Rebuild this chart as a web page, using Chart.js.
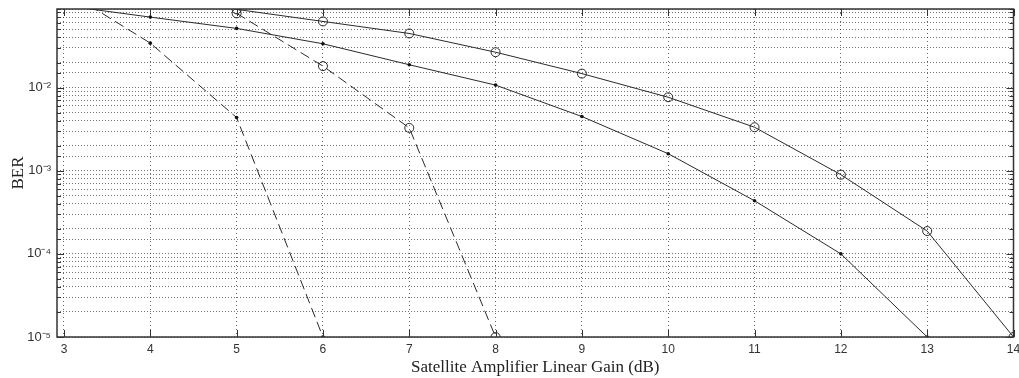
<!DOCTYPE html>
<html lang="en">
<head>
    <meta charset="UTF-8">
    <title>BER vs gain</title>
    <script src="https://cdn.jsdelivr.net/npm/chart.js"></script>
    <style>
      body { margin: 0; background: #fff; }
    </style>
</head>
<body>
    <canvas id="grafico1" width="1019" height="378"></canvas>

    <script>
      // x values (dB)
      const gain = [3, 4, 5, 6, 7, 8, 9, 10, 11, 12, 13, 14]
      // BER curves (null = not plotted)
      const solidCircle = [null, null, 0.0871, 0.0624, 0.0447, 0.0266, 0.0147, 0.00764, 0.00333, 0.000895, 0.000188, 0.00001]
      const solidDot = [0.097, 0.0703, 0.0514, 0.0336, 0.0188, 0.0107, 0.00448, 0.0016, 0.000435, 0.0001, 0.00001, null]
      const dashedDot = [0.15, 0.0342, 0.00435, 0.00001, null, null, null, null, null, null, null, null]
      const dashedCircle = [null, null, 0.078, 0.0181, 0.00327, 0.00001, null, null, null, null, null, null]
      const yTicks = [1e-5, 1e-4, 1e-3, 1e-2]
      const yTickText = ['10⁻⁵', '10⁻⁴', '10⁻³', '10⁻²']

      const pontos = (vals) => gain.map((g, i) => ({x: g, y: vals[i]})).filter(p => p.y !== null)

      const cor = '#2a2a2a'

      // box around the plot + inward tick marks, MATLAB style
      const moldura = {
        id: 'moldura',
        afterDatasetsDraw(chart) {
          const c = chart.ctx
          const a = chart.chartArea
          const sx = chart.scales.x
          const sy = chart.scales.y
          c.save()
          c.strokeStyle = '#333'
          c.lineWidth = 1
          c.setLineDash([])
          c.beginPath()
          gain.forEach(g => {
            const px = Math.round(sx.getPixelForValue(g)) + 0.5
            c.moveTo(px, a.bottom); c.lineTo(px, a.bottom - 7)
            c.moveTo(px, a.top); c.lineTo(px, a.top + 7)
          })
          sy.ticks.forEach(t => {
            const py = Math.round(sy.getPixelForValue(t.value)) + 0.5
            const len = yTicks.includes(t.value) ? 7 : 4
            c.moveTo(a.left, py); c.lineTo(a.left + len, py)
            c.moveTo(a.right, py); c.lineTo(a.right - len, py)
          })
          c.stroke()
          c.lineWidth = 1.5
          c.strokeRect(a.left, a.top, a.right - a.left, a.bottom - a.top)
          c.restore()
        }
      }

      const ctx = document.getElementById('grafico1')

      let grafico1 = new Chart(ctx, {
        type: 'line',
        data: {
          datasets: [
            {
              label: 'solid o',
              data: pontos(solidCircle),
              borderColor: cor, borderWidth: 1,
              pointStyle: 'circle', pointRadius: 4.5, pointBorderWidth: 1,
              pointBorderColor: cor, pointBackgroundColor: 'rgba(0,0,0,0)'
            },
            {
              label: 'solid .',
              data: pontos(solidDot),
              borderColor: cor, borderWidth: 1,
              pointRadius: 1.8, pointBorderWidth: 0,
              pointBackgroundColor: '#111'
            },
            {
              label: 'dashed .',
              data: pontos(dashedDot),
              borderColor: cor, borderWidth: 1, borderDash: [10, 5],
              pointRadius: 1.8, pointBorderWidth: 0,
              pointBackgroundColor: '#111'
            },
            {
              label: 'dashed o',
              data: pontos(dashedCircle),
              borderColor: cor, borderWidth: 1, borderDash: [10, 5],
              pointStyle: 'circle', pointRadius: 4.5, pointBorderWidth: 1,
              pointBorderColor: cor, pointBackgroundColor: 'rgba(0,0,0,0)'
            }
          ]
        },
        options: {
          responsive: false,
          animation: false,
          layout: { padding: { top: 9, right: 3, left: 0, bottom: 0 } },
          plugins: { legend: { display: false }, tooltip: { enabled: false } },
          elements: { line: { tension: 0 } },
          scales: {
            x: {
              type: 'linear',
              min: 2.919, max: 14,
              border: { display: false, dash: [1, 3] },
              grid: { color: 'rgba(0,0,0,0.6)', drawTicks: false },
              ticks: {
                stepSize: 1, padding: 5, color: '#333', includeBounds: false,
                font: { family: 'Liberation Sans', size: 12 }
              },
              title: {
                display: true, text: 'Satellite Amplifier Linear Gain (dB)', color: '#222',
                font: { family: 'Liberation Serif', size: 17 }, padding: { top: 0, bottom: 0 }
              },
              afterFit: (s) => { s.height = 41; s.paddingLeft = 0; s.paddingRight = 0 }
            },
            y: {
              type: 'logarithmic',
              min: 1e-5, max: 0.088,
              border: { display: false, dash: [1, 2] },
              grid: { color: 'rgba(0,0,0,0.55)', drawTicks: false },
              ticks: {
                autoSkip: false, padding: 6, color: '#333',
                font: { family: 'Liberation Sans', size: 13 },
                callback: (v) => {
                  const i = yTicks.findIndex(t => Math.abs(t - v) / t < 1e-6)
                  return i >= 0 ? yTickText[i] : ''
                }
              },
              title: {
                display: true, text: 'BER', color: '#222',
                font: { family: 'Liberation Serif', size: 17 }, padding: { top: 8, bottom: 0 }
              },
              afterFit: (s) => { s.width = 57; s.paddingTop = 0; s.paddingBottom = 0 }
            }
          }
        },
        plugins: [moldura]
      })
    </script>
</body>
</html>
